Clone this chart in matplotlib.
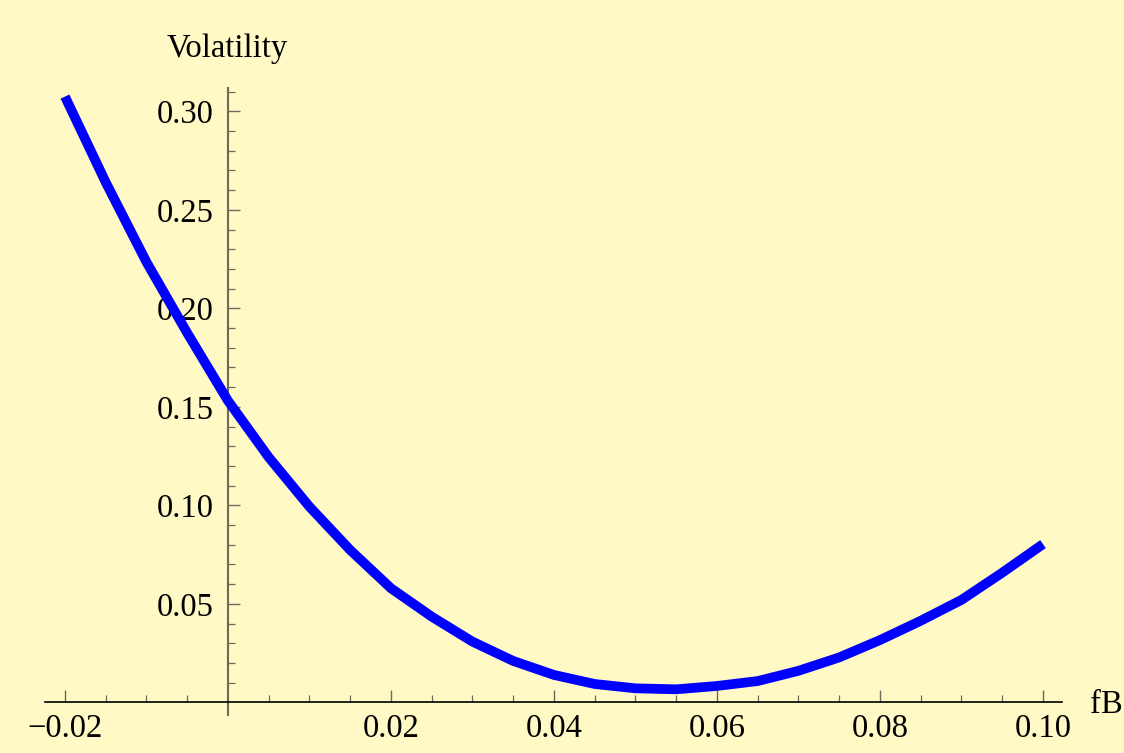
import matplotlib
matplotlib.use("Agg")
import matplotlib.pyplot as plt

# fB values and the volatility
fb = [-0.02, -0.015, -0.01, -0.005, 0.0, 0.005, 0.01, 0.015, 0.02, 0.025,
      0.03, 0.035, 0.04, 0.045, 0.05, 0.055, 0.06, 0.065, 0.07, 0.075,
      0.08, 0.085, 0.09, 0.095, 0.10]
volatility = [0.3075, 0.2640, 0.2235, 0.1875, 0.1531, 0.1244, 0.0993, 0.0773,
              0.0579, 0.0435, 0.0308, 0.0210, 0.0139, 0.0093, 0.0071, 0.0066,
              0.0083, 0.0108, 0.0160, 0.0228, 0.0316, 0.0414, 0.0520, 0.0658,
              0.0803]

x_major = [-0.02, 0.02, 0.04, 0.06, 0.08, 0.10]
x_labels = ["\u22120.02", "0.02", "0.04", "0.06", "0.08", "0.10"]
x_minor = [-0.015, -0.01, -0.005, 0.005, 0.01, 0.015, 0.025, 0.03, 0.035,
           0.045, 0.05, 0.055, 0.065, 0.07, 0.075, 0.085, 0.09, 0.095]
y_major = [0.05, 0.10, 0.15, 0.20, 0.25, 0.30]
y_labels = ["0.05", "0.10", "0.15", "0.20", "0.25", "0.30"]
y_minor = [0.01, 0.02, 0.03, 0.04, 0.06, 0.07, 0.08, 0.09, 0.11, 0.12, 0.13,
           0.14, 0.16, 0.17, 0.18, 0.19, 0.21, 0.22, 0.23, 0.24, 0.26, 0.27,
           0.28, 0.29, 0.31]

bg = "#fff9c5"
plt.rcParams['font.family'] = ['Liberation Serif', 'DejaVu Serif']

fig = plt.figure(figsize=(11.24, 7.53), dpi=100, facecolor=bg)
ax = fig.add_axes([0.0404, 0.0503, 0.9042, 0.8332])
ax.set_facecolor(bg)

ax.plot(fb, volatility, color="#0000ff", lw=7, solid_capstyle="butt",
        solid_joinstyle="miter", zorder=3)

ax.set_xlim(-0.0224, 0.1023)
ax.set_ylim(-0.0065, 0.312)

for s in ["top", "right"]:
    ax.spines[s].set_visible(False)
ax.spines["left"].set_position("zero")
ax.spines["bottom"].set_position("zero")
ax.spines["bottom"].set_color("black")
ax.spines["bottom"].set_linewidth(1.2)
ax.spines["left"].set_color("#6e6a5a")
ax.spines["left"].set_linewidth(1.5)

ax.set_xticks(x_major)
ax.set_xticklabels(x_labels)
ax.set_xticks(x_minor, minor=True)
ax.set_yticks(y_major)
ax.set_yticklabels(y_labels)
ax.set_yticks(y_minor, minor=True)

ax.tick_params(which="both", direction="in", labelsize=23.5, color="#6e6a5a")
ax.tick_params(which="major", length=8.6, width=1.0)
ax.tick_params(which="minor", length=5, width=0.9)
ax.tick_params(axis="x", which="major", pad=8)
ax.tick_params(axis="y", which="major", pad=10)

fig.text(227 / 1124, 1 - 57 / 753, "Volatility", ha="center", va="baseline",
         fontsize=23.5)
fig.text(1090 / 1124, 1 - 713 / 753, "fB", ha="left", va="baseline",
         fontsize=23.5)

fig.savefig("out.png", dpi=100, facecolor=bg)
